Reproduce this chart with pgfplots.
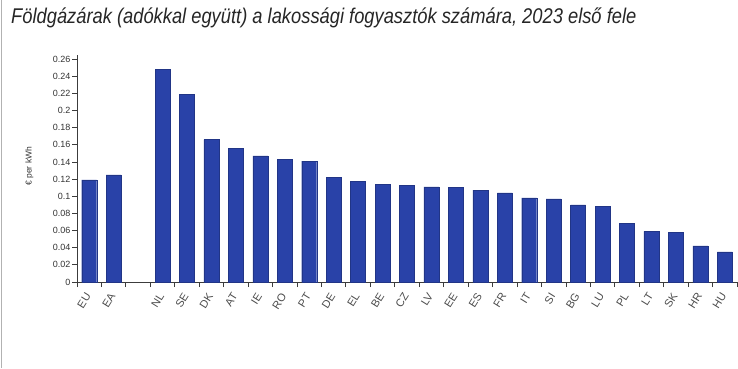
\documentclass[border=0pt]{standalone}
\usepackage{pgfplots}
\pgfplotsset{compat=1.18}
\usepackage{fontspec}
\setmainfont{Liberation Sans}
\newfontfamily\titlefont[FakeStretch=0.86]{Liberation Sans}
\definecolor{barblue}{RGB}{41,66,168}
\definecolor{axisgray}{RGB}{60,60,60}
\begin{document}
\begin{tikzpicture}[x=1bp,y=1bp]
\path[use as bounding box] (0,0) rectangle (738,368);
\draw[black!30, line width=1.2bp] (1.5,0) -- (1.5,368);
\node[anchor=west, font=\titlefont\itshape\fontsize{21.3bp}{23bp}\selectfont, text=black!85, inner sep=0pt] at (11,350) {Földgázárak (adókkal együtt) a lakossági fogyasztók számára, 2023 első fele};
\begin{axis}[
  at={(77bp,86bp)}, anchor=south west,
  scale only axis, width=660bp, height=227bp,
  xmin=0, xmax=27, ymin=0, ymax=0.2647,
  axis x line*=bottom, axis y line*=left,
  axis line style={axisgray, line width=0.8bp},
  ytick={0,0.02,...,0.261},
  yticklabels={0,0.02,0.04,0.06,0.08,0.1,0.12,0.14,0.16,0.18,0.2,0.22,0.24,0.26},
  yticklabel style={font=\fontsize{9bp}{10bp}\selectfont, text=black!80, inner sep=1.5bp},
  ytick style={axisgray, line width=0.8bp},
  tick align=outside, major tick length=5bp, minor tick length=5bp,
  xtick={0.5,1.5,3.5,4.5,5.5,6.5,7.5,8.5,9.5,10.5,11.5,12.5,13.5,14.5,15.5,16.5,17.5,18.5,19.5,20.5,21.5,22.5,23.5,24.5,25.5,26.5},
  xticklabels={EU,EA,NL,SE,DK,AT,IE,RO,PT,DE,EL,BE,CZ,LV,EE,ES,FR,IT,SI,BG,LU,PL,LT,SK,HR,HU},
  x tick style={draw=none},
  minor xtick={0,1,...,27},
  minor x tick style={axisgray, line width=0.8bp, draw=axisgray},
  xticklabel style={font=\fontsize{11bp}{12bp}\selectfont, text=black!70, rotate=58, anchor=east, inner sep=0pt, xshift=-6.5bp, yshift=-2.9bp},
  ylabel={€ per kWh},
  ylabel style={font=\fontsize{8.5bp}{9bp}\selectfont, text=black!80, at={(-40bp,0.51)}, anchor=south},
  /pgf/number format/assume math mode=true,
]
\addplot[ybar, bar width=15bp, fill=barblue, draw=barblue!80!black, line width=0.4bp] coordinates {
(0.5,0.119) (1.5,0.125)
(3.5,0.248) (4.5,0.219) (5.5,0.166) (6.5,0.156) (7.5,0.147) (8.5,0.143) (9.5,0.141) (10.5,0.122)
(11.5,0.117) (12.5,0.114) (13.5,0.113) (14.5,0.111) (15.5,0.110) (16.5,0.107) (17.5,0.104)
(18.5,0.098) (19.5,0.097) (20.5,0.090) (21.5,0.088) (22.5,0.068) (23.5,0.059) (24.5,0.058)
(25.5,0.042) (26.5,0.035)
};
\end{axis}
\end{tikzpicture}
\end{document}
